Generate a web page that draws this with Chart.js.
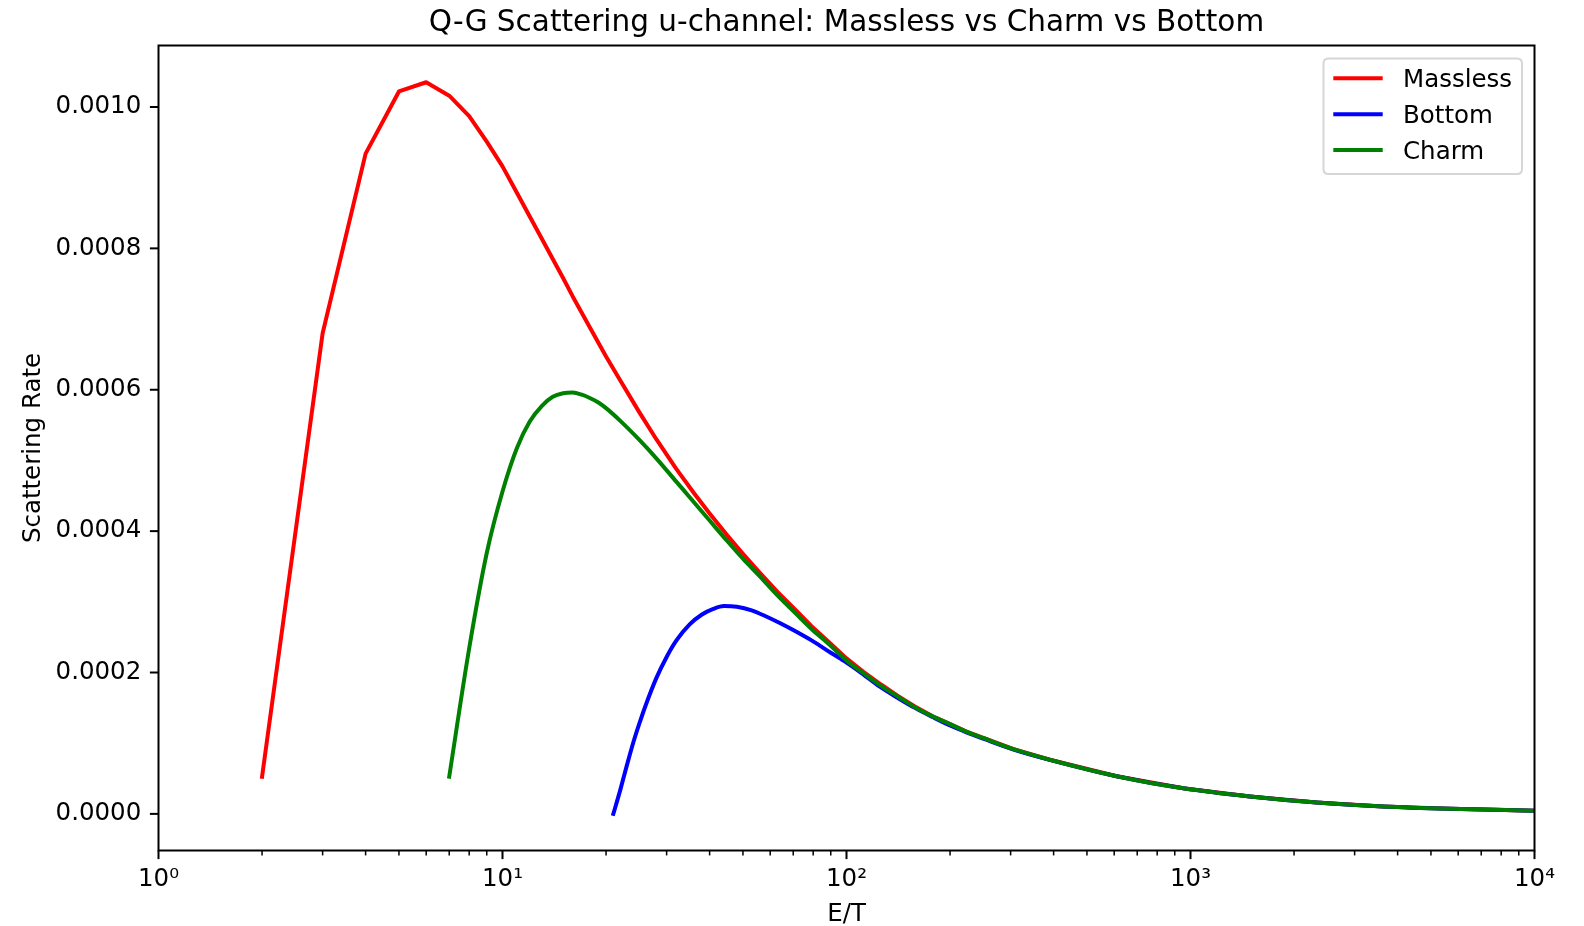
<!DOCTYPE html>
<html>
<head>
<meta charset="utf-8">
<script src="https://cdn.jsdelivr.net/npm/chart.js@4.4.1/dist/chart.umd.min.js"></script>
<style>
html,body{margin:0;padding:0;background:#ffffff;}
#wrap{width:1584px;height:926px;position:relative;}
</style>
</head>
<body>
<div id="wrap"><canvas id="c" width="1584" height="926"></canvas></div>
<script>
// ---- text ----
const TITLE = 'Q-G Scattering u-channel: Massless vs Charm vs Bottom';
const X_LABEL = 'E/T';
const Y_LABEL = 'Scattering Rate';

// ---- series ----
const masslessX = [2,3,4,5,6,7,8,9,10,11,12,13,14,15,16,18,20,22,25,28,32,36,40,45,50,56,63,71,79,89,100,112,126,141,158,178,200,224,251,306,390,610,953,1489,2328,3634,5680,10000];
const masslessY = [0.0000526,0.000680,0.000934,0.001022,0.001035,0.001016,0.000987,0.000951,0.000916,0.000879,0.000845,0.000814,0.000785,0.000758,0.000732,0.000687,0.000647,0.000613,0.000568,0.000530,0.000488,0.000454,0.000425,0.000394,0.000368,0.000341,0.000314,0.000289,0.000266,0.000243,0.000220,0.000201,0.000183,0.000167,0.000152,0.000138,0.000127,0.000116,0.000107,0.0000915,0.0000766,0.0000533,0.0000362,0.0000246,0.0000160,0.0000106,0.0000073,0.0000046];

const bottomX = [21,22,23,24,25,26,28,30,32,35,38,41,44,48,53,58,64,70,80,90,100,110,125,141,158,178,200,224,251,306,390,610,953,1489,2328,3634,5680,10000];
const bottomY = [0.0,0.000034,0.000069,0.000101,0.000128,0.000152,0.000192,0.000222,0.000245,0.000268,0.000282,0.000290,0.000294,0.000293,0.000288,0.000280,0.000270,0.000260,0.000244,0.000228,0.000214,0.000200,0.000180,0.000164,0.000150,0.000137,0.000125,0.000115,0.000106,0.0000910,0.0000764,0.0000533,0.0000362,0.0000246,0.0000160,0.0000106,0.0000073,0.0000046];

const charmX = [7,8,9,10,11,12,13,14,15,16,17,18,19,20,22,25,28,32,35,40,45,50,56,63,71,79,89,100,112,126,141,158,178,200,224,251,306,390,610,953,1489,2328,3634,5680,10000];
const charmY = [0.0000526,0.000234,0.000369,0.000456,0.000517,0.000555,0.000577,0.000590,0.000595,0.000596,0.000593,0.000588,0.000582,0.000574,0.000556,0.000529,0.000503,0.000470,0.000448,0.000415,0.000386,0.000361,0.000336,0.000309,0.000284,0.000262,0.000240,0.000217,0.000199,0.000181,0.000166,0.000151,0.000138,0.000127,0.000116,0.000107,0.0000915,0.0000766,0.0000533,0.0000362,0.0000246,0.0000160,0.0000106,0.0000073,0.0000046];

// ---- ticks ----
const xMajorTicks = [1, 10, 100, 1000, 10000];
const xMajorLabels = ['10\u2070', '10\u00B9', '10\u00B2', '10\u00B3', '10\u2074'];
const xMinorMultipliers = [2,3,4,5,6,7,8,9];
const yTicks = [0, 0.0002, 0.0004, 0.0006, 0.0008, 0.0010];
const yTickLabels = ['0.0000', '0.0002', '0.0004', '0.0006', '0.0008', '0.0010'];

const X_MIN = 1, X_MAX = 10000;
const Y_MIN = -0.0000518, Y_MAX = 0.001087;

const seriesNames = ['Massless', 'Bottom', 'Charm'];
const seriesColors = ['#ff0000', '#0000ff', '#008000'];
const LINE_W = 4;

function pts(xs, ys){ return xs.map((x,i)=>({x:x, y:ys[i]})); }

const xAllTicks = [];
for (let d = 0; d < xMajorTicks.length; d++) {
  xAllTicks.push({value: xMajorTicks[d], major: true});
  if (d < xMajorTicks.length - 1) {
    xMinorMultipliers.forEach(m => xAllTicks.push({value: m * xMajorTicks[d], major: false}));
  }
}

const FONT = '"DejaVu Sans", "Liberation Sans", sans-serif';
const TICK_PX = 24.5;

const decorPlugin = {
  id: 'decor',
  afterDraw(chart) {
    const ctx = chart.ctx;
    const a = chart.chartArea;
    const xs = chart.scales.x, ys = chart.scales.y;
    ctx.save();
    ctx.strokeStyle = '#000';
    xAllTicks.forEach(t => {
      const px = xs.getPixelForValue(t.value);
      ctx.lineWidth = t.major ? 2 : 1.5;
      const len = t.major ? 8.6 : 4.9;
      ctx.beginPath(); ctx.moveTo(px, a.bottom); ctx.lineTo(px, a.bottom + len); ctx.stroke();
    });
    yTicks.forEach(v => {
      const py = ys.getPixelForValue(v);
      ctx.lineWidth = 2;
      ctx.beginPath(); ctx.moveTo(a.left, py); ctx.lineTo(a.left - 8.6, py); ctx.stroke();
    });
    ctx.lineWidth = 2;
    ctx.strokeRect(a.left, a.top, a.right - a.left, a.bottom - a.top);

    ctx.fillStyle = '#000';
    ctx.textAlign = 'center';
    ctx.textBaseline = 'alphabetic';
    ctx.font = '29.5px ' + FONT;
    ctx.fillText(TITLE, (a.left + a.right) / 2, 30.8);
    ctx.font = TICK_PX + 'px ' + FONT;
    ctx.fillText(X_LABEL, (a.left + a.right) / 2, 921);
    ctx.save();
    ctx.translate(40, (a.top + a.bottom) / 2);
    ctx.rotate(-Math.PI / 2);
    ctx.fillText(Y_LABEL, 0, 0);
    ctx.restore();

    const bx = 1323.5, by = 58.5, bw = 198.5, bh = 115.5, r = 5;
    ctx.beginPath();
    ctx.moveTo(bx + r, by);
    ctx.lineTo(bx + bw - r, by); ctx.quadraticCurveTo(bx + bw, by, bx + bw, by + r);
    ctx.lineTo(bx + bw, by + bh - r); ctx.quadraticCurveTo(bx + bw, by + bh, bx + bw - r, by + bh);
    ctx.lineTo(bx + r, by + bh); ctx.quadraticCurveTo(bx, by + bh, bx, by + bh - r);
    ctx.lineTo(bx, by + r); ctx.quadraticCurveTo(bx, by, bx + r, by);
    ctx.closePath();
    ctx.fillStyle = 'rgba(255,255,255,0.8)';
    ctx.fill();
    ctx.strokeStyle = '#d6d6d6';
    ctx.lineWidth = 2;
    ctx.stroke();
    ctx.textAlign = 'left';
    ctx.font = TICK_PX + 'px ' + FONT;
    chart.data.datasets.forEach((ds, i) => {
      const ly = 78.3 + i * 35.9;
      ctx.strokeStyle = ds.borderColor;
      ctx.lineWidth = LINE_W;
      ctx.lineCap = 'square';
      ctx.beginPath(); ctx.moveTo(1335.3, ly); ctx.lineTo(1380.7, ly); ctx.stroke();
      ctx.fillStyle = '#000';
      ctx.fillText(ds.label, 1403, ly + 8.7);
    });
    ctx.restore();
  }
};

function lineDs(i, xs, ys, order, mode) {
  const ds = {
    label: seriesNames[i], data: pts(xs, ys), borderColor: seriesColors[i], backgroundColor: seriesColors[i],
    order: order, borderWidth: LINE_W, borderCapStyle: 'square', borderJoinStyle: 'round',
    pointRadius: 0, fill: false
  };
  if (mode) ds.cubicInterpolationMode = mode; else ds.tension = 0;
  return ds;
}

const chart = new Chart(document.getElementById('c').getContext('2d'), {
  type: 'line',
  data: {
    datasets: [
      lineDs(0, masslessX, masslessY, 3, null),
      lineDs(1, bottomX, bottomY, 2, 'monotone'),
      lineDs(2, charmX, charmY, 1, 'monotone')
    ]
  },
  options: {
    responsive: false,
    animation: false,
    devicePixelRatio: 1,
    layout: {padding: {top: 45.5, right: 49.5, left: 0, bottom: 0}},
    plugins: {legend: {display: false}, title: {display: false}, tooltip: {enabled: false}},
    events: [],
    scales: {
      x: {
        type: 'logarithmic', position: 'bottom', min: X_MIN, max: X_MAX,
        afterBuildTicks: s => { s.ticks = xAllTicks.map(t => ({value: t.value, major: t.major})); },
        afterFit: s => { s.height = 75.5; },
        ticks: {
          autoSkip: false, maxRotation: 0, minRotation: 0, padding: 14, color: '#000',
          font: {family: FONT, size: TICK_PX},
          callback: (v) => { const i = xMajorTicks.indexOf(v); return i >= 0 ? xMajorLabels[i] : ''; }
        },
        grid: {display: false, drawOnChartArea: false, drawTicks: false},
        border: {display: false}
      },
      y: {
        type: 'linear', position: 'left', min: Y_MIN, max: Y_MAX,
        afterBuildTicks: s => { s.ticks = yTicks.map(v => ({value: v})); },
        afterFit: s => { s.width = 158.5; },
        ticks: {
          padding: 17.2, color: '#000', font: {family: FONT, size: TICK_PX},
          callback: (v, i) => yTickLabels[i]
        },
        grid: {display: false, drawOnChartArea: false, drawTicks: false},
        border: {display: false}
      }
    }
  },
  plugins: [decorPlugin]
});
</script>
</body>
</html>
